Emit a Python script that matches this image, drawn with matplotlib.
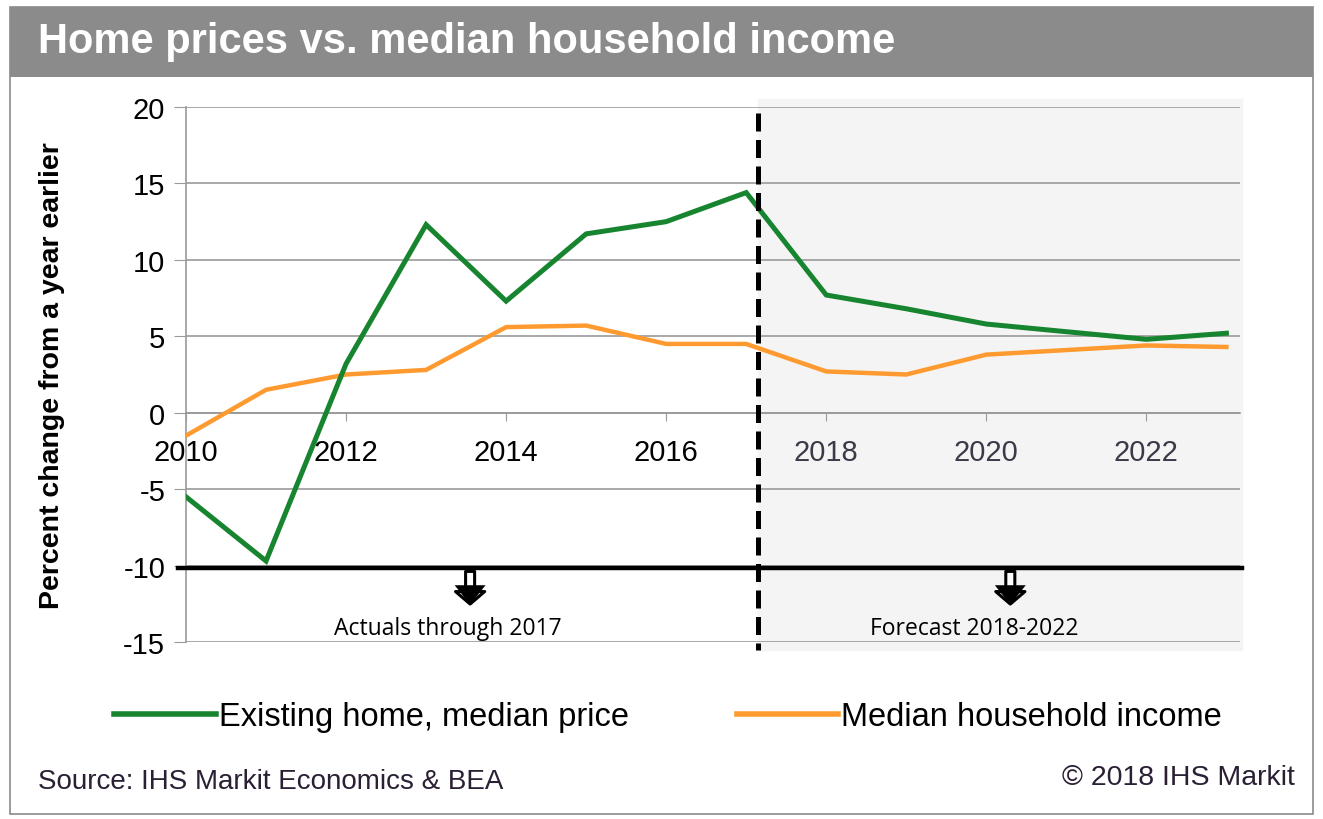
import matplotlib.pyplot as plt
from matplotlib.patches import Rectangle
from matplotlib.lines import Line2D

# data
years = list(range(2010, 2024))
home_price = [-5.5, -9.7, 3.2, 12.3, 7.3, 11.7, 12.5, 14.4, 7.7, 6.8, 5.8, 5.3, 4.8, 5.2]
household_income = [-1.5, 1.5, 2.5, 2.8, 5.6, 5.7, 4.5, 4.5, 2.7, 2.5, 3.8, 4.1, 4.4, 4.3]

y_ticks = [-15, -10, -5, 0, 5, 10, 15, 20]
x_ticks = [2010, 2012, 2014, 2016, 2018, 2020, 2022]

GREEN = '#17842f'
ORANGE = '#ff9a30'
GRID = '#9a9a9a'

plt.rcParams['font.family'] = ['Liberation Sans', 'DejaVu Sans']
plt.rcParams['axes.unicode_minus'] = False

fig = plt.figure(figsize=(13.23, 8.2), dpi=100)

# outer frame + title bar
fig.patches.append(Rectangle((10 / 1323, 1 - 815 / 820), 1303 / 1323, 807 / 820,
                             transform=fig.transFigure, facecolor='none',
                             edgecolor='#8a8a8a', lw=1.2, zorder=-1))
fig.patches.append(Rectangle((10 / 1323, 1 - 78 / 820), 1303 / 1323, 70 / 820,
                             transform=fig.transFigure, facecolor='#8b8b8b',
                             edgecolor='none', zorder=1))
fig.text(38 / 1323, 1 - 42 / 820, 'Home prices vs. median household income',
         color='white', fontsize=30, fontweight='bold', va='center', ha='left')

ax = fig.add_axes([186 / 1323, 1 - 643 / 820, (1240 - 186) / 1323, (643 - 108) / 820])
ax.set_xlim(2010, 2023.17)
ax.set_ylim(-15, 20)

# forecast shading
ax.axvspan(2017.15, 2023.2, ymin=-0.015, ymax=1.015, color='#f4f4f4', zorder=0, clip_on=False)

ax.set_yticks(y_ticks)
ax.set_xticks(x_ticks)
ax.yaxis.grid(True, color=GRID, lw=1.2)
ax.set_axisbelow(True)

for s in ['top', 'right']:
    ax.spines[s].set_visible(False)
ax.spines['left'].set_color(GRID)
ax.spines['left'].set_linewidth(1.2)
ax.spines['bottom'].set_position(('data', 0))
ax.spines['bottom'].set_color(GRID)
ax.spines['bottom'].set_linewidth(1.2)

ax.tick_params(axis='y', length=9, color=GRID, labelsize=21, pad=6)
ax.tick_params(axis='x', length=6, color=GRID, labelsize=21, pad=12)
for lab in ax.get_xticklabels():
    if int(lab.get_text()) >= 2018:
        lab.set_color('#3a3a48')

ax.set_ylabel('Percent change from a year earlier', fontsize=20.5, fontweight='bold', labelpad=42)

ax.plot(years, household_income, color=ORANGE, lw=3.2, zorder=3, solid_joinstyle='miter')
ax.plot(years, home_price, color=GREEN, lw=3.6, zorder=4, solid_joinstyle='miter')

# actual / forecast divider
ax.plot([2017.15, 2017.15], [19.6, -15.5], color='black', lw=3.6, ls=(0, (3.6, 1.7)),
        zorder=5, clip_on=False)

# black bar with arrows (hollow shaft, solid head)
ax.plot([2009.9, 2023.2], [-10.15, -10.15], color='black', lw=3.2, zorder=5, clip_on=False)
for xa in [2013.55, 2020.3]:
    ax.annotate('', xy=(xa, -12.7), xytext=(xa, -10.2),
                arrowprops=dict(arrowstyle='simple,head_width=2.1,head_length=0.9,tail_width=0.65',
                                facecolor='white', edgecolor='black', lw=2.2), zorder=6)
    ax.annotate('', xy=(xa, -12.75), xytext=(xa, -11.9),
                arrowprops=dict(arrowstyle='-|>,head_width=0.55,head_length=0.7',
                                color='black', lw=0.1, mutation_scale=20), zorder=7)
ax.text(2013.27, -14.1, 'Actuals through 2017', fontsize=16.5, ha='center', va='center',
        family=['Open Sans', 'DejaVu Sans'])
ax.text(2019.85, -14.1, 'Forecast 2018-2022', fontsize=16.5, ha='center', va='center',
        family=['Open Sans', 'DejaVu Sans'])

# legend
handles = [Line2D([], [], color=GREEN, lw=4), Line2D([], [], color=ORANGE, lw=4)]
fig.legend(handles, ['Existing home, median price', 'Median household income'],
           loc='center', bbox_to_anchor=(0.505, 1 - 718 / 820), ncol=2, frameon=False,
           fontsize=23.5, handlelength=3.1, handletextpad=0.1, columnspacing=3.3)

fig.text(38 / 1323, 1 - 782 / 820, 'Source: IHS Markit Economics & BEA', fontsize=20,
         color='#2a1f33', va='center')
fig.text(1295 / 1323, 1 - 778 / 820, '\u00a9 2018 IHS Markit', fontsize=20.5,
         color='#2a1f33', va='center', ha='right')

fig.savefig('out.png', dpi=100)
